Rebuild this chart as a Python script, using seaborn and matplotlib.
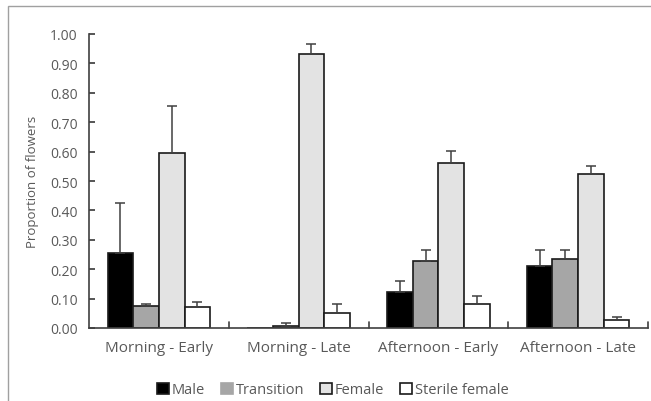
import numpy as np
import pandas as pd
import matplotlib
matplotlib.use("Agg")
import matplotlib.pyplot as plt
import seaborn as sns
from matplotlib.patches import Rectangle

# data
grupos = ['Morning - Early', 'Morning - Late', 'Afternoon - Early', 'Afternoon - Late']
tipos = ['Male', 'Transition', 'Female', 'Sterile female']
male = [0.255, 0.0, 0.124, 0.210]
transition = [0.076, 0.008, 0.229, 0.236]
female = [0.594, 0.932, 0.560, 0.523]
sterile = [0.070, 0.051, 0.080, 0.028]
err_male = [0.170, 0.0, 0.036, 0.054]
err_transition = [0.004, 0.010, 0.035, 0.028]
err_female = [0.160, 0.034, 0.043, 0.029]
err_sterile = [0.020, 0.031, 0.030, 0.010]

colores = ['#000000', '#a6a6a6', '#e3e3e3', '#ffffff']

sns.set_theme(style="white")
plt.rcParams['font.family'] = ['Open Sans', 'DejaVu Sans']

valores = [male, transition, female, sterile]
errores = [err_male, err_transition, err_female, err_sterile]
filas = []
for t, vals in zip(tipos, valores):
    for g, v in zip(grupos, vals):
        filas.append({'grupo': g, 'tipo': t, 'valor': v})
df = pd.DataFrame(filas)

fig = plt.figure(figsize=(6.51, 4.02), dpi=100)
ax = fig.add_axes([89 / 651, 73 / 402, 559 / 651, 294 / 402])

sns.barplot(data=df, x='grupo', y='valor', hue='tipo', order=grupos, hue_order=tipos,
            palette=colores, errorbar=None, width=0.735, saturation=1,
            edgecolor='#1a1a1a', linewidth=1.2, ax=ax)

# error bars (only upward)
for cont, errs in zip(ax.containers, errores):
    for bar, e in zip(cont, errs):
        if e <= 0:
            continue
        x = bar.get_x() + bar.get_width() / 2
        ax.errorbar(x, bar.get_height(), yerr=[[0], [e]], fmt='none',
                    ecolor='#404040', elinewidth=1.1, capsize=3.5, capthick=1.1, zorder=1)

ax.set_ylim(0, 1.0)
ax.set_xlim(-0.5, 3.5)
ax.set_yticks(np.arange(0, 1.01, 0.1))
ax.set_yticklabels([f'{v:.2f}' for v in np.arange(0, 1.01, 0.1)])
ax.set_xlabel('')
ax.set_ylabel('Proportion of flowers', fontsize=9.5, color='#595959', labelpad=8)
ax.tick_params(axis='y', direction='in', length=4, color='#404040', labelsize=10,
               labelcolor='#595959', left=True, pad=8)
ax.tick_params(axis='x', length=0, labelsize=11, labelcolor='#595959', pad=9)

# group separator ticks on the x axis
for xb in [0.5, 1.5, 2.5, 3.5]:
    ax.plot([xb, xb], [0, 0.02], color='#404040', lw=1.2, clip_on=False)

for s in ['top', 'right']:
    ax.spines[s].set_visible(False)
for s in ['left', 'bottom']:
    ax.spines[s].set_color('#404040')
    ax.spines[s].set_linewidth(1.2)

leg = ax.legend(loc='upper center', bbox_to_anchor=(0.436, -0.14), ncol=4, frameon=False,
                fontsize=10.5, handlelength=0.8, handleheight=0.8, handletextpad=0.2,
                columnspacing=1.1)
for t in leg.get_texts():
    t.set_color('#595959')
handles = leg.legend_handles
handles[1].set_edgecolor('#a6a6a6')

# outer border of the chart area
fig.patches.append(Rectangle((8 / 651, -0.1), 1.2, (402 - 7) / 402 + 0.1,
                             transform=fig.transFigure, fill=False,
                             edgecolor='#a0a0a0', linewidth=1.0))

plt.savefig('out.png', dpi=100)
plt.close()
